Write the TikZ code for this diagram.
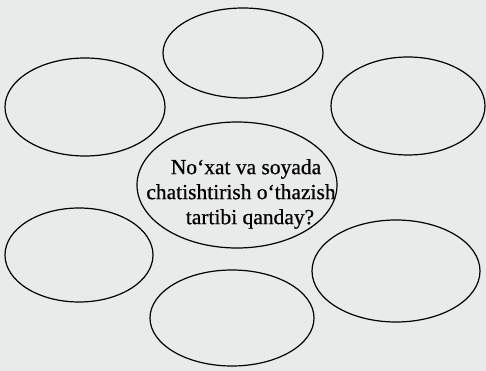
\documentclass[tikz,border=0pt]{standalone}
\usepackage{fontspec}
\setmainfont{Liberation Serif}
\newfontfamily\bubblefont[FakeBold=0.6]{Liberation Serif}
\definecolor{paper}{HTML}{E9EAEA}
\begin{document}
\begin{tikzpicture}[x=1pt,y=-1pt,
  bubble/.style={line width=1.2pt},
  ]
\fill[paper] (0,0) rectangle (486,371);
\useasboundingbox (0,0) rectangle (486,371);
\draw[bubble] (243,53) ellipse [x radius=80,y radius=45];
\draw[bubble] (85,107) ellipse [x radius=80,y radius=49];
\draw[bubble] (408,106) ellipse [x radius=77,y radius=49];
\draw[bubble] (79,255) ellipse [x radius=74,y radius=47];
\draw[bubble] (396,271) ellipse [x radius=84,y radius=51];
\draw[bubble] (232,318) ellipse [x radius=82,y radius=48];
\draw[bubble] (237,185) ellipse [x radius=100,y radius=63];
\node[align=center,inner sep=0pt,font=\bubblefont\fontsize{21.5}{25}\selectfont] (center) at (241,194)
  {\hspace*{10pt}No‘xat va soyada\\chatishtirish o‘thazish\\\hspace*{18pt}tartibi qanday?};
\end{tikzpicture}
\end{document}
